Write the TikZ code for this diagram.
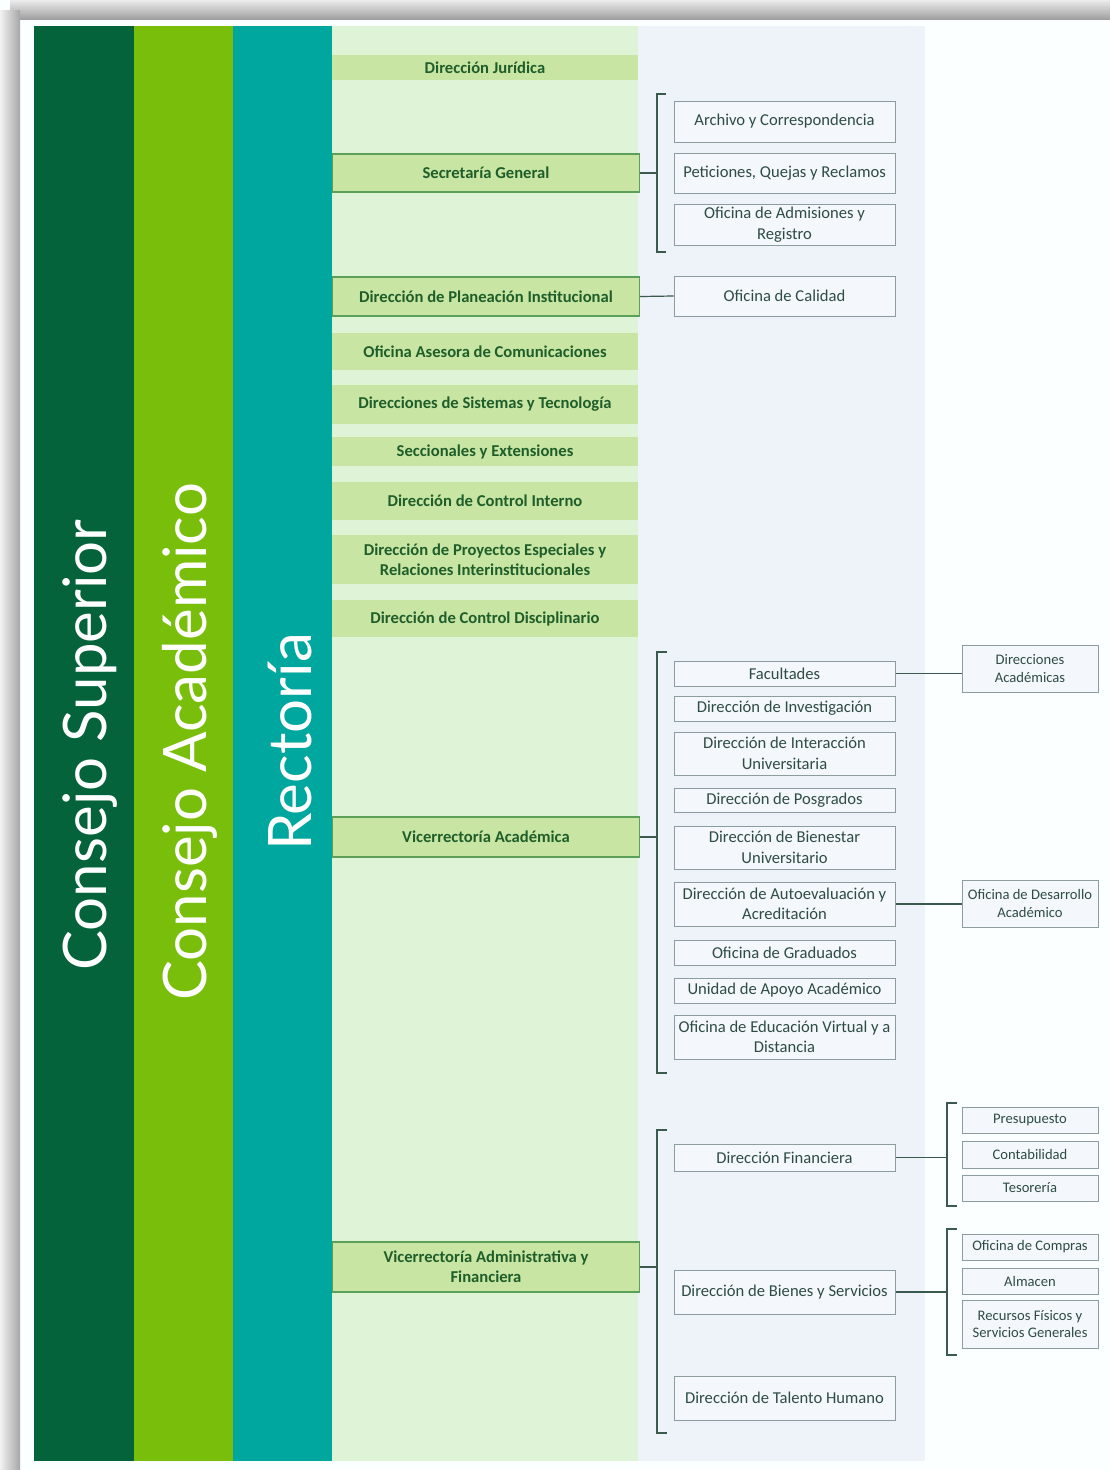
\documentclass[tikz,border=0pt]{standalone}
\usepackage{fontspec}
\setmainfont{Carlito}
\newfontfamily\titlefont{Lato}
\definecolor{csup}{HTML}{04633B}
\definecolor{cacad}{HTML}{78BE0A}
\definecolor{crect}{HTML}{00A79E}
\definecolor{pnlA}{HTML}{DFF3D6}
\definecolor{pnlB}{HTML}{EEF2F9}
\definecolor{lfill}{HTML}{C8E5A3}
\definecolor{lborder}{HTML}{5C9F58}
\definecolor{ltext}{HTML}{1F5E2A}
\definecolor{rfill}{HTML}{F4F7FB}
\definecolor{rborder}{HTML}{8D9C9E}
\definecolor{rtext}{HTML}{2E4C44}
\definecolor{lnk}{HTML}{3A5A4E}
\definecolor{bgw}{HTML}{FBFFFF}
\tikzset{
  lbox/.style={fill=lfill, text=ltext, minimum width=306pt, inner sep=0pt, align=center,
    font=\fontsize{16.6}{20}\selectfont\bfseries},
  lboxb/.style={lbox, draw=lborder, line width=1.3pt, minimum width=307pt},
  rbox/.style={fill=rfill, draw=rborder, line width=1pt, text=rtext, minimum width=221pt,
    inner sep=0pt, align=center, font=\fontsize{16.6}{20.5}\selectfont},
  fbox/.style={rbox, minimum width=136pt, font=\fontsize{14.6}{17.5}\selectfont},
  link/.style={draw=lnk, line width=1.2pt},
  title/.style={text=white, rotate=90, font=\titlefont\fontsize{60}{64}\selectfont}
}
\begin{document}
\begin{tikzpicture}[x=1pt,y=-1pt]
\useasboundingbox (0,0) rectangle (1110,1470);
\fill[bgw] (0,0) rectangle (1110,1470);
% frame shadow
\shade[top color=gray!15, bottom color=gray!75] (10,0) rectangle (1110,19);
\shade[left color=gray!10, right color=gray!70] (0,10) rectangle (20,1470);
% columns
\fill[csup] (34,26) rectangle (134,1461);
\fill[cacad] (134,26) rectangle (233,1461);
\fill[crect] (233,26) rectangle (332,1461);
\fill[pnlA] (332,26) rectangle (638,1461);
\fill[pnlB] (638,26) rectangle (925,1461);
\node[title] (csn) at (90,745) {Consejo Superior};
\node[title] (can) at (190,742) {Consejo Académico};
\node[title] (rcn) at (290,742) {Rectoría};
% left boxes
\node[lbox, minimum height=25pt] (dj) at (485,67.5) {Dirección Jurídica};
\node[lboxb, minimum height=38pt] (sg) at (486,173) {Secretaría General};
\node[lboxb, minimum height=39pt] (dpi) at (486,296.5) {Dirección de Planeación Institucional};
\node[lbox, minimum height=37pt] (oac) at (485,351.5) {Oficina Asesora de Comunicaciones};
\node[lbox, minimum height=39pt] (dst) at (485,404.5) {Direcciones de Sistemas y Tecnología};
\node[lbox, minimum height=29pt] (sye) at (485,451.5) {Seccionales y Extensiones};
\node[lbox, minimum height=38pt] (dci) at (485,501) {Dirección de Control Interno};
\node[lbox, minimum height=49pt] (dpe) at (485,559.5) {Dirección de Proyectos Especiales y\\Relaciones Interinstitucionales};
\node[lbox, minimum height=37pt] (dcd) at (485,618.5) {Dirección de Control Disciplinario};
\node[lboxb, minimum height=40pt] (vra) at (486,837) {Vicerrectoría Académica};
\node[lboxb, minimum height=50pt] (vraf) at (486,1267) {Vicerrectoría Administrativa y\\Financiera};
% right boxes
\node[rbox, minimum height=41pt] (ayc) at (784.5,121.5) {Archivo y Correspondencia};
\node[rbox, minimum height=40pt] (pqr) at (784.5,173) {Peticiones, Quejas y Reclamos};
\node[rbox, minimum height=41pt] (oar) at (784.5,224.5) {Oficina de Admisiones y\\Registro};
\node[rbox, minimum height=40pt] (ocal) at (784.5,296) {Oficina de Calidad};
\node[rbox, minimum height=25pt] (fac) at (784.5,673.5) {Facultades};
\node[rbox, minimum height=25pt] (din) at (784.5,708.5) {Dirección de Investigación};
\node[rbox, minimum height=43pt] (diu) at (784.5,753.5) {Dirección de Interacción\\Universitaria};
\node[rbox, minimum height=24pt] (dpo) at (784.5,800) {Dirección de Posgrados};
\node[rbox, minimum height=43pt] (dbu) at (784.5,847.5) {Dirección de Bienestar\\Universitario};
\node[rbox, minimum height=44pt] (daa) at (784.5,904) {Dirección de Autoevaluación y\\Acreditación};
\node[rbox, minimum height=25pt] (ogr) at (784.5,952.5) {Oficina de Graduados};
\node[rbox, minimum height=25pt] (uaa) at (784.5,990.5) {Unidad de Apoyo Académico};
\node[rbox, minimum height=44pt] (oev) at (784.5,1037) {Oficina de Educación Virtual y a\\Distancia};
\node[rbox, minimum height=27pt] (dfi) at (784.5,1157.5) {Dirección Financiera};
\node[rbox, minimum height=44pt] (dbs) at (784.5,1292) {Dirección de Bienes y Servicios};
\node[rbox, minimum height=44pt] (dth) at (784.5,1398) {Dirección de Talento Humano};
% far right boxes
\node[fbox, minimum height=47pt] (dac) at (1030,668.5) {Direcciones\\Académicas};
\node[fbox, minimum height=47pt] (oda) at (1030,903.5) {Oficina de Desarrollo\\Académico};
\node[fbox, minimum height=26pt] (pre) at (1030,1120) {Presupuesto};
\node[fbox, minimum height=27pt] (con) at (1030,1154.5) {Contabilidad};
\node[fbox, minimum height=26pt] (tes) at (1030,1188) {Tesorería};
\node[fbox, minimum height=26pt] (oco) at (1030,1247) {Oficina de Compras};
\node[fbox, minimum height=26pt] (alm) at (1030,1281) {Almacen};
\node[fbox, minimum height=48pt] (rfs) at (1030,1324) {Recursos Físicos y\\Servicios Generales};
% bracket coordinates
\coordinate (b1) at (657,173);
\coordinate (b2) at (657,837);
\coordinate (b3) at (657,1267);
\coordinate (b4) at (947,1157.5);
\coordinate (b5) at (947,1292);
% brackets
\draw[link] (666,94) -- (657,94) -- (657,252) -- (666,252);
\draw[link] (667,652) -- (657,652) -- (657,1073) -- (667,1073);
\draw[link] (667,1130) -- (657,1130) -- (657,1433) -- (667,1433);
\draw[link] (957,1103) -- (947,1103) -- (947,1206) -- (957,1206);
\draw[link] (957,1229) -- (947,1229) -- (947,1355) -- (957,1355);
% connectors
\draw[link] (sg.east) -- (b1);
\draw[link] (dpi.east) -- (ocal.west);
\draw[link] (vra.east) -- (b2);
\draw[link] (vraf.east) -- (b3);
\draw[link] (dfi.east) -- (b4);
\draw[link] (dbs.east) -- (b5);
\draw[link] (fac.east) -- (fac.east -| dac.west);
\draw[link] (daa.east) -- (daa.east -| oda.west);
\end{tikzpicture}
\end{document}
